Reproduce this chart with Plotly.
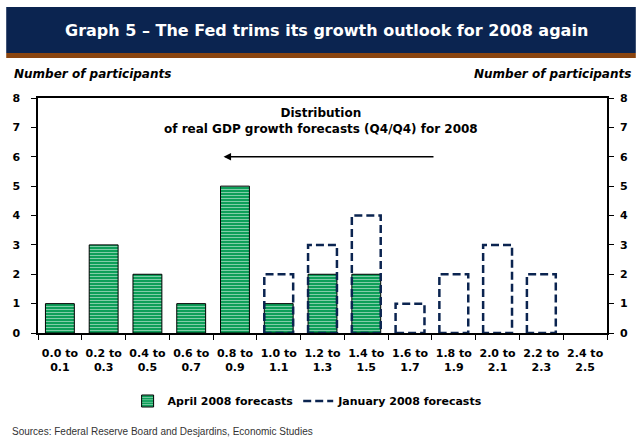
import plotly.graph_objects as go

# Forecast bins (real GDP growth, Q4/Q4, %)
bin_low = ["0.0", "0.2", "0.4", "0.6", "0.8", "1.0", "1.2", "1.4", "1.6", "1.8", "2.0", "2.2", "2.4"]
bin_high = ["0.1", "0.3", "0.5", "0.7", "0.9", "1.1", "1.3", "1.5", "1.7", "1.9", "2.1", "2.3", "2.5"]

# Number of FOMC participants in each bin
april_2008 = [1, 3, 2, 1, 5, 1, 2, 2, 0, 0, 0, 0, 0]
january_2008 = [0, 0, 0, 0, 0, 2, 3, 4, 1, 2, 3, 2, 0]

W, H = 640, 442
L, R, T, B = 38, 29, 98, 109
PW, PH = W - L - R, H - T - B

FONT = "DejaVu Sans, Verdana, sans-serif"
SRC_FONT = "Liberation Sans, Arial, sans-serif"
NAVY = "#0b2450"
GREEN = "#009a50"
BAR_W = 0.66


def px_x(x):
    return (x - L) / PW


def px_y(y):
    return (H - B - y) / PH


idx = list(range(len(bin_low)))
tick_text = [f"{a} to<br>{b}" for a, b in zip(bin_low, bin_high)]

# Dashed outlines for the January forecasts, built from the counts
jx, jy = [], []
for i, v in zip(idx, january_2008):
    if v <= 0:
        continue
    x0, x1 = i - BAR_W / 2, i + BAR_W / 2
    jx += [x0, x0, x1, x1, x0, None]
    jy += [0, v, v, 0, 0, None]

# no outline on empty bins
april_line_w = [1 if v > 0 else 0 for v in april_2008]

fig = go.Figure()
fig.add_trace(go.Bar(
    x=idx, y=april_2008, width=BAR_W,
    name="April 2008 forecasts",
    marker=dict(
        color=GREEN,
        line=dict(color="black", width=april_line_w),
        pattern=dict(shape="-", fgcolor="white", bgcolor=GREEN, size=3, solidity=0.4),
    ),
))
fig.add_trace(go.Scatter(
    x=jx, y=jy, mode="lines",
    name="January 2008 forecasts",
    line=dict(color=NAVY, width=2.5, dash="8px,4px"),
))
# invisible trace so the right-hand axis is drawn
fig.add_trace(go.Scatter(x=[0], y=[0], yaxis="y2", mode="markers",
                         marker=dict(opacity=0), showlegend=False, hoverinfo="skip"))

tickfont = dict(family=FONT, size=11, color="black", weight="bold")

fig.update_layout(
    width=W, height=H,
    margin=dict(l=L, r=R, t=T, b=B),
    paper_bgcolor="white", plot_bgcolor="white",
    font=dict(family=FONT, color="black"),
    xaxis=dict(
        range=[-0.5, len(idx) - 0.5],
        tickvals=idx, ticktext=tick_text, ticks="",
        tickfont=tickfont, ticklabelstandoff=9,
        showline=True, linecolor="black", linewidth=1.5, mirror=True,
        showgrid=False, zeroline=False,
        minor=dict(tickvals=[i - 0.5 for i in idx] + [len(idx) - 0.5],
                   ticks="outside", ticklen=5, tickcolor="black", tickwidth=1),
    ),
    yaxis=dict(
        range=[0, 8], dtick=1, ticks="outside", ticklen=5, tickcolor="black",
        tickfont=tickfont, ticklabelstandoff=9,
        showline=True, linecolor="black", linewidth=1.5,
        showgrid=False, zeroline=False,
    ),
    yaxis2=dict(
        range=[0, 8], dtick=1, overlaying="y", side="right",
        ticks="outside", ticklen=5, tickcolor="black",
        tickfont=tickfont, ticklabelstandoff=4,
        showline=True, linecolor="black", linewidth=1.5,
        showgrid=False, zeroline=False,
    ),
    legend=dict(
        orientation="h", x=px_x(310), y=px_y(401),
        xanchor="center", yanchor="middle",
        font=dict(family=FONT, size=11, color="black", weight="bold"),
        itemwidth=30,
    ),
    showlegend=True,
)

# Title banner
fig.add_shape(type="rect", xref="paper", yref="paper",
              x0=px_x(6), x1=px_x(640), y0=px_y(53), y1=px_y(7),
              fillcolor=NAVY, line=dict(width=0), layer="below")
fig.add_shape(type="rect", xref="paper", yref="paper",
              x0=px_x(6), x1=px_x(640), y0=px_y(58), y1=px_y(53),
              fillcolor="#8a4510", line=dict(width=0), layer="below")

annotations = [
    dict(text="Graph 5 – The Fed trims its growth outlook for 2008 again",
         x=px_x(329), y=px_y(31), xanchor="center", yanchor="middle",
         font=dict(family=FONT, size=16, color="white", weight="bold")),
    dict(text="<i>Number of participants</i>", x=px_x(12), y=px_y(74),
         xanchor="left", yanchor="middle",
         font=dict(family=FONT, size=12, color="black", weight="bold")),
    dict(text="<i>Number of participants</i>", x=px_x(637), y=px_y(74),
         xanchor="right", yanchor="middle",
         font=dict(family=FONT, size=12, color="black", weight="bold")),
    dict(text="Distribution<br>of real GDP growth forecasts (Q4/Q4) for 2008",
         x=px_x(323), y=px_y(121), xanchor="center", yanchor="middle",
         font=dict(family=FONT, size=12, color="black", weight="bold")),
    dict(text="Sources: Federal Reserve Board and Desjardins, Economic Studies",
         x=px_x(10), y=px_y(431), xanchor="left", yanchor="middle",
         font=dict(family=SRC_FONT, size=10, color="#333333")),
]
for a in annotations:
    fig.add_annotation(xref="paper", yref="paper", showarrow=False, **a)

# Arrow showing the shift of the distribution
fig.add_annotation(x=3.74, y=6, ax=8.57, ay=6, xref="x", yref="y",
                   axref="x", ayref="y", text="", showarrow=True,
                   arrowhead=2, arrowsize=1, arrowwidth=1.5, arrowcolor="black")

fig.write_html("out.html")
